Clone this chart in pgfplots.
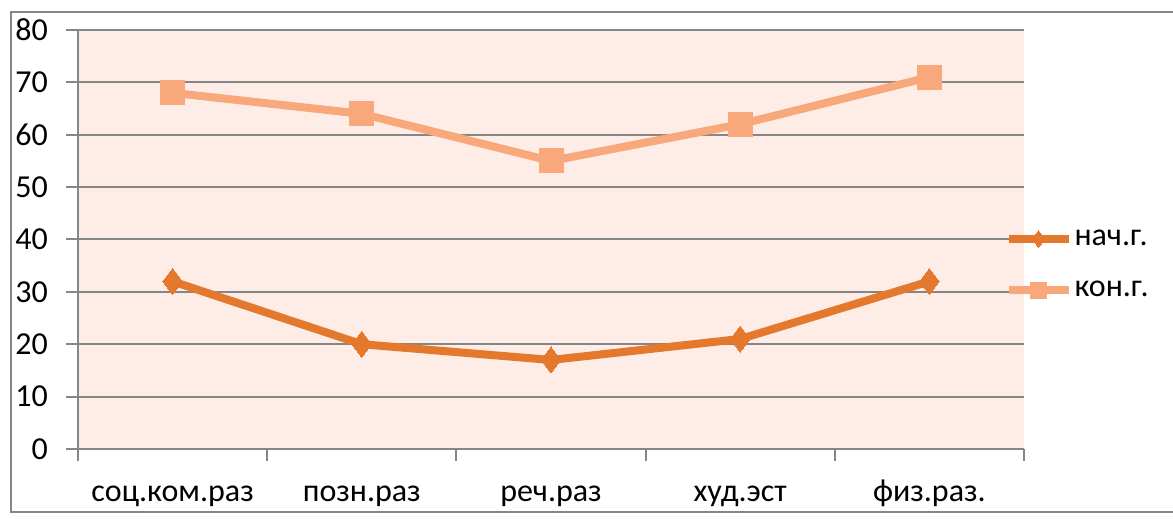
\documentclass[border=0pt]{standalone}
\usepackage{fontspec}
\setmainfont{Carlito}
\usepackage{pgfplots}
\pgfplotsset{compat=1.18}

\definecolor{nachc}{RGB}{228,120,44}
\definecolor{konc}{RGB}{248,168,122}
\definecolor{bgpink}{RGB}{253,237,230}
\definecolor{gridc}{RGB}{134,134,134}

\begin{document}
\begin{tikzpicture}
\begin{axis}[
    name=ax,
    scale only axis,
    width=473pt, height=209.5pt,
    xmin=0.5, xmax=5.5,
    ymin=0, ymax=80,
    ytick={0,10,...,80},
    xtick={1,2,3,4,5},
    xticklabels={соц.ком.раз, позн.раз, реч.раз, худ.эст, физ.раз.},
    minor xtick={0.5,1.5,...,5.5},
    major x tick style={draw=none},
    axis x line*=bottom,
    axis y line*=left,
    axis line style={draw=gridc, line width=1pt, -},
    tick style={draw=gridc, line width=1pt},
    tick align=outside,
    major tick length=6pt,
    minor tick length=6pt,
    ymajorgrids,
    grid style={draw=gridc, line width=1pt},
    axis background/.style={fill=bgpink},
    /pgf/number format/assume math mode=true,
    every tick label/.append style={font=\fontsize{16}{18}\selectfont},
    yticklabel style={xshift=-5.5pt},
    xticklabel style={yshift=-6.5pt, text height=10pt, text depth=3pt},
    clip=false,
    legend style={at={(0.979,0.44)}, anchor=west, draw=none, fill=none,
        inner sep=0pt, row sep=14.5pt, font=\fontsize{16}{18}\selectfont,
        nodes={inner sep=1pt}},
    legend cell align=left,
    legend image code/.code={%
        \draw[mark repeat=2, mark phase=2, #1, every mark/.append style={scale=0.65}]
            plot coordinates {(0pt,0pt) (15pt,0pt) (30pt,0pt)};},
]
\addplot[color=nachc, line width=4pt, mark=diamond*, mark size=6.5pt,
    mark options={solid, fill=nachc, line width=0pt}]
    coordinates {(1,32) (2,20) (3,17) (4,21) (5,32)};
\addplot[color=konc, line width=4pt, mark=square*, mark size=6pt,
    mark options={solid, fill=konc, line width=0pt}]
    coordinates {(1,68) (2,64) (3,55) (4,62) (5,71)};
\legend{нач.г., кон.г.}
\end{axis}
% outer frame of the chart
\draw[gridc, line width=1pt] ([xshift=600pt,yshift=218.5pt]ax.south west)
    -- ([xshift=-33.5pt,yshift=218.5pt]ax.south west)
    -- ([xshift=-33.5pt,yshift=-31.5pt]ax.south west)
    -- ([xshift=600pt,yshift=-31.5pt]ax.south west);
\pgfresetboundingbox
\path ([xshift=-39pt,yshift=-35pt]ax.south west) rectangle ([xshift=547.5pt,yshift=224.5pt]ax.south west);
\end{tikzpicture}
\end{document}
